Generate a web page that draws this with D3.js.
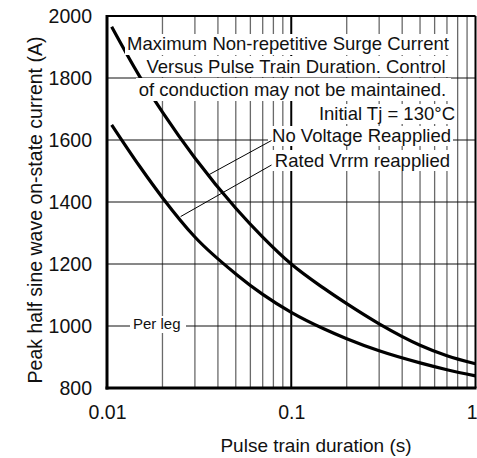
<!DOCTYPE html>
<html>
<head>
<meta charset="utf-8">
<script src="https://cdn.jsdelivr.net/npm/d3@7"></script>
<style>
  html, body { margin: 0; padding: 0; background: #fff; }
  svg { display: block; font-family: Arial, "Liberation Sans", sans-serif; }
</style>
</head>
<body>
<svg id="chart" width="477" height="458"></svg>
<script>
// Pulse train duration (s) sampled along both curves
const durations = [0.0106, 0.015, 0.02, 0.03, 0.05, 0.07, 0.1, 0.15, 0.2, 0.3, 0.5, 0.7, 1];
// Peak half sine wave on-state current (A), no voltage reapplied
const noVoltageReapplied = [1965, 1806, 1690, 1542, 1380, 1287, 1200, 1122, 1072, 1007, 938, 904, 878];
// Peak half sine wave on-state current (A), rated Vrrm reapplied
const ratedVrrmReapplied = [1649, 1516, 1414, 1287, 1168, 1102, 1044, 991, 959, 920, 881, 859, 839];

const xTickValues = [0.01, 0.1, 1];
const xTickLabels = ["0.01", "0.1", "1"];
const yTickValues = [800, 1000, 1200, 1400, 1600, 1800, 2000];

const noteLines = [
  "Maximum Non-repetitive Surge Current",
  "Versus Pulse Train Duration. Control",
  "of conduction may not be maintained.",
  "Initial Tj = 130\u00B0C"
];
const seriesLabels = ["No Voltage Reapplied", "Rated Vrrm reapplied"];
const perLegLabel = "Per leg";
const xTitle = "Pulse train duration (s)";
const yTitle = "Peak half sine wave on-state current (A)";

const svg = d3.select("#chart");
const plot = { left: 107, right: 475.5, top: 16, bottom: 388 };

const x = d3.scaleLog().domain([0.01, 1]).range([plot.left, plot.right]);
const y = d3.scaleLinear().domain([800, 2000]).range([plot.bottom, plot.top]);

// vertical grid: every 1..9 multiple inside each decade
const minorX = x.ticks().filter(v => !xTickValues.includes(v));
svg.append("g").selectAll("line").data(minorX).join("line")
  .attr("x1", d => x(d)).attr("x2", d => x(d))
  .attr("y1", plot.top).attr("y2", plot.bottom)
  .attr("stroke", "#6a6a6a").attr("stroke-width", 1.3);

// decade line at 0.1 is heavier
svg.append("line")
  .attr("x1", x(0.1)).attr("x2", x(0.1))
  .attr("y1", plot.top).attr("y2", plot.bottom)
  .attr("stroke", "#000").attr("stroke-width", 2);

// horizontal grid
svg.append("g").selectAll("line").data(yTickValues.slice(1, -1)).join("line")
  .attr("x1", plot.left).attr("x2", plot.right)
  .attr("y1", d => y(d)).attr("y2", d => y(d))
  .attr("stroke", "#111").attr("stroke-width", 1);

// curves
const line = d3.line()
  .x(d => x(d[0])).y(d => y(d[1]))
  .curve(d3.curveMonotoneX);

[noVoltageReapplied, ratedVrrmReapplied].forEach(vals => {
  svg.append("path")
    .datum(durations.map((t, i) => [t, vals[i]]))
    .attr("d", line)
    .attr("fill", "none")
    .attr("stroke", "#000")
    .attr("stroke-width", 3.2)
    .attr("stroke-linejoin", "round");
});

// white boxes behind each annotation line
const boxes = [
  [125, 34, 328, 21],
  [143, 56, 307, 21],
  [136, 78, 315, 23],
  [316, 104, 141, 20],
  [268, 126, 185, 20],
  [268, 150, 185, 21],
  [130, 316, 56, 17]
];
svg.append("g").selectAll("rect").data(boxes).join("rect")
  .attr("x", d => d[0]).attr("y", d => d[1])
  .attr("width", d => d[2]).attr("height", d => d[3])
  .attr("fill", "#fff");

// annotation text
const notes = svg.append("g").attr("font-size", 18.5).attr("fill", "#111");
const notePos = [[288, 50, "middle"], [296, 72.5, "middle"], [292.5, 96, "middle"], [455, 120, "end"]];
noteLines.forEach((t, i) => {
  notes.append("text")
    .attr("x", notePos[i][0]).attr("y", notePos[i][1])
    .attr("text-anchor", notePos[i][2])
    .text(t);
});
const labelPos = [[451, 141.5], [450, 166.5]];
seriesLabels.forEach((t, i) => {
  notes.append("text")
    .attr("x", labelPos[i][0]).attr("y", labelPos[i][1])
    .attr("text-anchor", "end")
    .text(t);
});

// leader lines from the series labels to their curves
const leaders = [
  [[271.5, 140.5], [0.0355, 1487]],
  [[271.5, 165], [0.0251, 1353]]
];
svg.append("g").selectAll("line").data(leaders).join("line")
  .attr("x1", d => d[0][0]).attr("y1", d => d[0][1])
  .attr("x2", d => x(d[1][0])).attr("y2", d => y(d[1][1]))
  .attr("stroke", "#000").attr("stroke-width", 1);

svg.append("text")
  .attr("x", 133).attr("y", 328.5)
  .attr("font-size", 15).attr("fill", "#111")
  .text(perLegLabel);

// frame
svg.append("line").attr("x1", plot.left).attr("x2", plot.right)
  .attr("y1", plot.top).attr("y2", plot.top)
  .attr("stroke", "#000").attr("stroke-width", 2);
svg.append("line").attr("x1", plot.right).attr("x2", plot.right)
  .attr("y1", plot.top).attr("y2", plot.bottom)
  .attr("stroke", "#000").attr("stroke-width", 2);
svg.append("line").attr("x1", plot.left).attr("x2", plot.left)
  .attr("y1", plot.top - 1).attr("y2", plot.bottom + 1.5)
  .attr("stroke", "#000").attr("stroke-width", 3);
svg.append("line").attr("x1", plot.left - 1.5).attr("x2", plot.right + 1)
  .attr("y1", plot.bottom).attr("y2", plot.bottom)
  .attr("stroke", "#000").attr("stroke-width", 3);

// axes (labels only)
const yAxis = svg.append("g")
  .attr("transform", `translate(${plot.left},0)`)
  .call(d3.axisLeft(y).tickValues(yTickValues).tickFormat(d3.format("d"))
    .tickSize(0).tickPadding(15));
yAxis.select(".domain").remove();
yAxis.selectAll("text").attr("font-size", 19.5).attr("fill", "#111")
  .attr("font-family", "Arial, 'Liberation Sans', sans-serif");

const xAxis = svg.append("g")
  .attr("transform", `translate(0,${plot.bottom})`)
  .call(d3.axisBottom(x).tickValues(xTickValues)
    .tickFormat((d, i) => xTickLabels[i]).tickSize(0).tickPadding(17));
xAxis.select(".domain").remove();
xAxis.selectAll("text").attr("font-size", 19.5).attr("fill", "#111")
  .attr("font-family", "Arial, 'Liberation Sans', sans-serif");
// keep the last label inside the page edge
xAxis.selectAll(".tick").filter(d => d === 1).select("text")
  .attr("text-anchor", "end").attr("x", 477 - plot.right);

// axis titles
svg.append("text")
  .attr("x", 316).attr("y", 452)
  .attr("text-anchor", "middle")
  .attr("font-size", 19).attr("fill", "#111")
  .text(xTitle);

svg.append("text")
  .attr("transform", "translate(42,210) rotate(-90)")
  .attr("text-anchor", "middle")
  .attr("font-size", 19.5).attr("fill", "#111")
  .text(yTitle);
</script>
</body>
</html>
